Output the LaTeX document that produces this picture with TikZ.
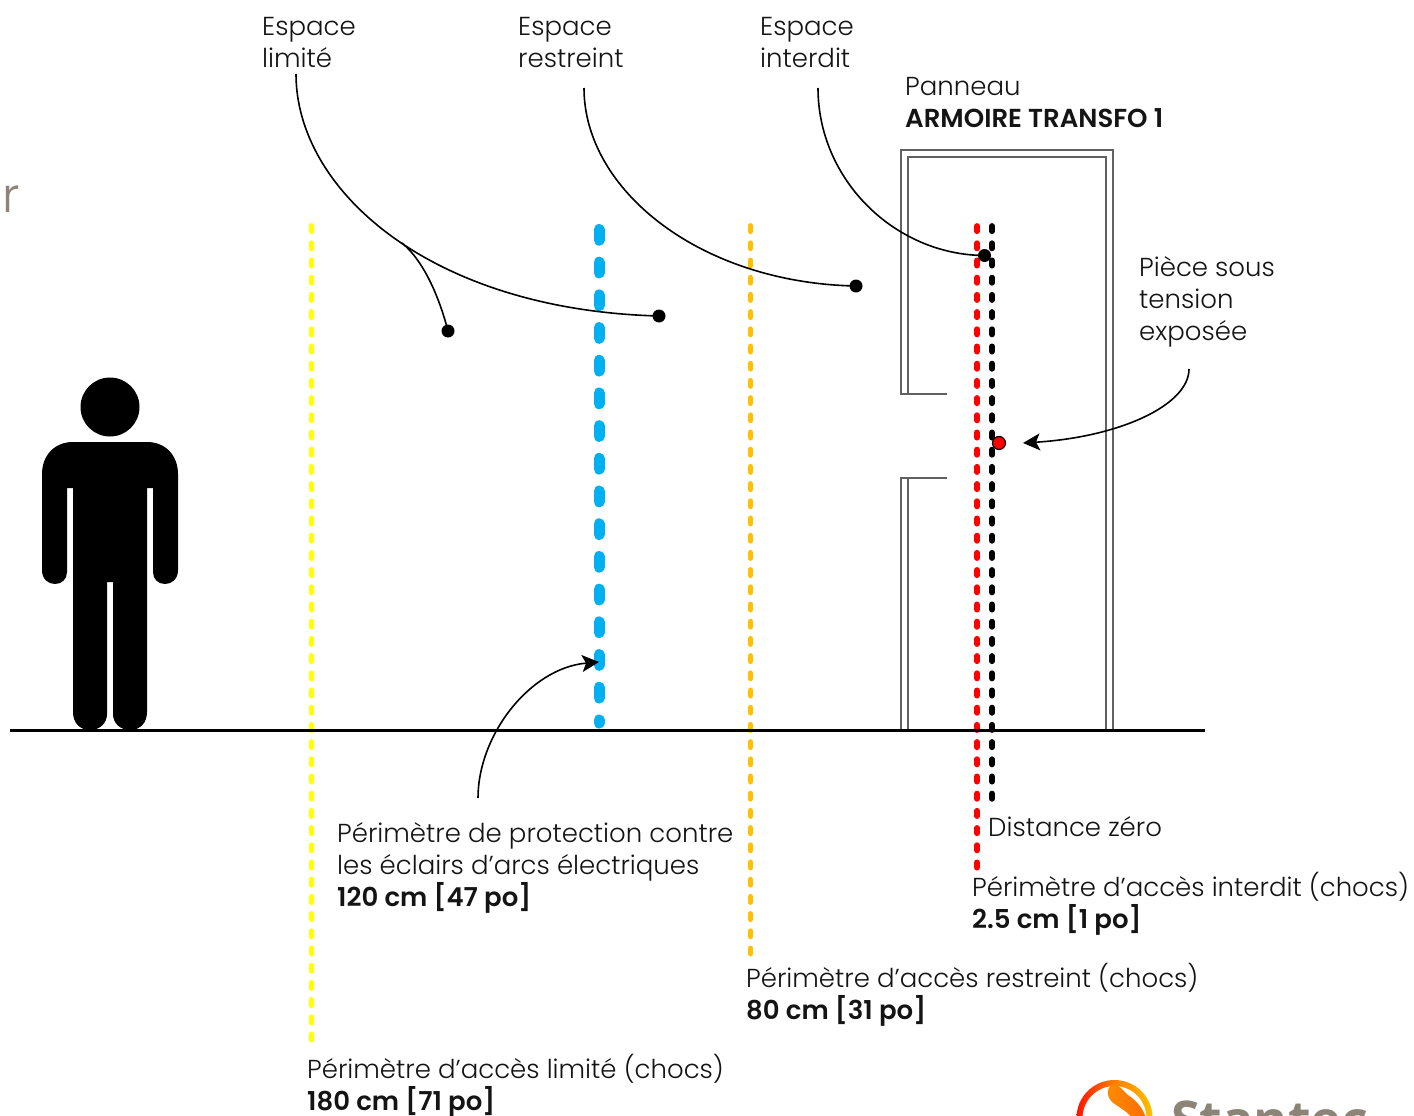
\documentclass[tikz,border=0pt]{standalone}
\usepackage{fontspec}
\setmainfont{Poppins}[UprightFont=* Light,BoldFont=* SemiBold]
\newfontfamily\logofont{Open Sans}
\usetikzlibrary{arrows.meta}
\definecolor{dyellow}{HTML}{FFFF00}
\definecolor{dblue}{HTML}{00B0F0}
\definecolor{dorange}{HTML}{FFC000}
\definecolor{dred}{HTML}{FF0000}
\definecolor{lgray}{HTML}{8C8577}
\tikzset{
  lab/.style={inner sep=0pt,anchor=north west,align=left,font=\fontsize{26}{32}\selectfont,text=black!92},
  perim/.style={line cap=round,line width=5.8pt,dash pattern=on 5.2pt off 12pt},
  leader/.style={line width=1.6pt,draw=black},
  dotm/.style={circle,fill=black,inner sep=0pt,minimum size=13pt},
  wall/.style={line width=1.2pt,draw=black!62},
  tip/.style={-{Stealth[length=17pt,width=17pt,inset=4pt]}}
}
\begin{document}
\begin{tikzpicture}[x=1pt,y=-1pt]
\useasboundingbox (0,0) rectangle (1414,1116);
% cabinet
\draw[wall] (901,730) -- (901,478) -- (947,478);
\draw[wall] (908,730) -- (908,478);
\draw[wall] (947,394) -- (901,394) -- (901,150) -- (1113,150) -- (1113,730);
\draw[wall] (908,394) -- (908,157) -- (1106,157) -- (1106,730);
% perimeters
\coordinate (yt) at (311.5,226); \coordinate (yb) at (311.5,1045);
\coordinate (bt) at (599,229.5); \coordinate (bb) at (599,723);
\coordinate (ot) at (750.5,226); \coordinate (ob) at (750.5,957);
\coordinate (rt) at (977,226); \coordinate (rb) at (977,869);
\coordinate (kt) at (992,226); \coordinate (kb) at (992,799);
\draw[perim,dyellow] (yt) -- (yb);
\draw[line cap=round,line width=11pt,dblue,dash pattern=on 10.7pt off 22pt] (bt) -- (bb);
\draw[perim,dorange] (ot) -- (ob);
\draw[perim,dred] (rt) -- (rb);
\draw[perim,black] (kt) -- (kb);
% ground
\coordinate (g1) at (10,730.5); \coordinate (g2) at (1205,730.5);
\draw[line width=2.8pt] (g1) -- (g2);
% person
\fill (110,407) circle (29.5);
\fill (73,442) -- (147,442) .. controls (166,442) and (178,456) .. (178,474) -- (178,570)
  .. controls (178,579) and (172,584) .. (165,584) .. controls (158,584) and (153,579) .. (153,572)
  -- (153,488) -- (147,488) -- (147,712) .. controls (147,723) and (140,730) .. (130,730)
  .. controls (120,730) and (113,723) .. (113,714) -- (113,582) -- (107,582) -- (107,714)
  .. controls (107,723) and (100,730) .. (90,730) .. controls (80,730) and (73,723) .. (73,712)
  -- (73,488) -- (67,488) -- (67,572) .. controls (67,579) and (62,584) .. (55,584)
  .. controls (48,584) and (42,579) .. (42,570) -- (42,474) .. controls (42,456) and (54,442) .. (73,442) -- cycle;
% labels
\node[lab] (l1) at (262,17) {Espace\\limité};
\node[lab] (l2) at (518,17) {Espace\\restreint};
\node[lab] (l3) at (760,17) {Espace\\interdit};
\node[lab] (l4) at (905,77) {Panneau\\\textbf{ARMOIRE TRANSFO 1}};
\node[lab] (l5) at (1139,256) {Pièce sous\\tension\\exposée};
\node[lab] (l6) at (337,822) {Périmètre de protection contre\\les éclairs d’arcs électriques\\\textbf{120 cm [47 po]}};
\node[lab] (l7) at (988,816) {Distance zéro};
\node[lab] (l8) at (972,872) {Périmètre d’accès interdit (chocs)\\\textbf{2.5 cm [1 po]}};
\node[lab] (l9) at (746,963) {Périmètre d’accès restreint (chocs)\\\textbf{80 cm [31 po]}};
\node[lab] (l10) at (307,1054) {Périmètre d’accès limité (chocs)\\\textbf{180 cm [71 po]}};
\node[inner sep=0pt,anchor=north west,font=\fontsize{48}{50}\selectfont,text=lgray] (rr) at (2,186) {r};
% dots
\node[dotm] (d1) at (448,331) {};
\node[dotm] (d2) at (659,316) {};
\node[dotm] (d3) at (856,286) {};
\node[dotm] (d4) at (984.5,255.5) {};
\node[circle,fill=dred,draw=black,line width=1.2pt,inner sep=0pt,minimum size=13pt] (d5) at (999,443) {};
\coordinate (s1) at (296,74); \coordinate (s2) at (584,88); \coordinate (s3) at (818,88);
\coordinate (s5) at (1189,369); \coordinate (a5) at (1023,443);
\coordinate (s6) at (478,798); \coordinate (a6) at (599,662);
\coordinate (br) at (402,243);
% leaders
\draw[leader] (s1) .. controls (296,190) and (430,310) .. (d2.center);
\draw[leader] (br) .. controls (425,262) and (440,300) .. (d1.center);
\draw[leader] (s2) .. controls (584,190) and (700,283) .. (d3.center);
\draw[leader] (s3) .. controls (818,180) and (895,255) .. (d4.center);
\draw[leader,tip] (s5) .. controls (1189,405) and (1120,437) .. (a5);
\draw[leader,tip] (s6) .. controls (478,735) and (530,668) .. (a6);
% logo, cut by the page edge
\begin{scope}
\clip (0,0) rectangle (1414,1116);
\shade[even odd rule,left color=red!85!orange,right color=dorange,middle color=orange]
  (1114.5,1118) circle (38) (1114.5,1118) circle (32);
\shade[left color=orange!90!yellow,right color=orange!85!red]
  (1111,1085) .. controls (1106,1090) and (1107,1097) .. (1112,1102)
  .. controls (1120,1108) and (1128,1112) .. (1132,1118) -- (1146,1118)
  .. controls (1142,1106) and (1135,1100) .. (1128,1095)
  .. controls (1124,1092) and (1119,1083) .. (1111,1085) -- cycle;
\node[inner sep=0pt,anchor=base west,font=\logofont\bfseries\fontsize{52}{60}\selectfont,text=lgray] (logo) at (1171,1138) {Stantec};
\end{scope}
\end{tikzpicture}
\end{document}
